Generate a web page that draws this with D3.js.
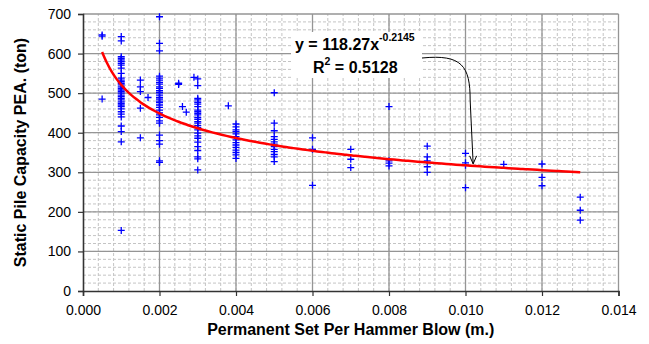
<!DOCTYPE html>
<html lang="en">
<head>
<meta charset="UTF-8">
<title>Static Pile Capacity vs Permanent Set</title>
<script src="https://d3js.org/d3.v7.min.js"></script>
<style>
  body { margin: 0; background: #fff; font-family: "Liberation Sans", Arial, sans-serif; }
  svg { display: block; }
  .tick text { font-size: 14px; fill: #000; font-family: "Liberation Sans", Arial, sans-serif; }
  .axis-title { font-weight: bold; font-size: 16px; fill: #000; }
  .eq { font-weight: bold; font-size: 16px; fill: #000; }
</style>
</head>
<body>
<svg id="chart"></svg>
<script>
// permanent set per blow (m.) for each column of readings
const setCols = [0.0005, 0.001, 0.0015, 0.0017, 0.002, 0.0025, 0.0026, 0.0027, 0.0029,
  0.003, 0.0038, 0.004, 0.005, 0.006, 0.007, 0.008, 0.009, 0.010, 0.011, 0.012, 0.013];

// static pile capacity (ton) read for each column
const capacityCols = [
  [647, 644, 485],
  [643, 632, 592, 588, 584, 580, 575, 571, 563, 550, 538, 533, 529, 525, 521, 516, 512, 508,
   504, 500, 495, 491, 487, 483, 478, 474, 470, 466, 460, 453, 447, 440, 417, 403, 377, 153],
  [533, 516, 504, 462, 387],
  [489],
  [693, 626, 607, 543, 538, 533, 527, 523, 516, 512, 506, 501, 495, 489, 485, 480, 476, 470,
   464, 457, 450, 445, 439, 430, 424, 394, 380, 371, 329, 325],
  [525, 522],
  [466],
  [452],
  [540],
  [536, 519, 487, 483, 477, 472, 466, 457, 453, 449, 445, 439, 434, 428, 424, 418, 413, 407,
   399, 392, 386, 376, 365, 355, 339, 334, 306],
  [468],
  [422, 415, 407, 403, 397, 390, 382, 375, 369, 363, 356, 350, 344, 335],
  [501, 424, 405, 390, 383, 377, 371, 365, 358, 352, 345, 339, 327],
  [387, 358, 267],
  [358, 333, 312],
  [466, 329, 323, 316],
  [366, 339, 329, 314, 300],
  [348, 324, 318, 261],
  [320],
  [321, 287, 266],
  [237, 204, 179]
];

const xTickValues = [0, 0.002, 0.004, 0.006, 0.008, 0.010, 0.012, 0.014];
const yTickValues = [0, 100, 200, 300, 400, 500, 600, 700];

// power trendline y = a * x^b
const trendA = 118.27;
const trendB = -0.2145;
const trendRange = [0.0005, 0.013];
const eqLine1 = "y = 118.27x";
const eqExp = "-0.2145";
const eqLine2 = " = 0.5128";

const width = 649, height = 344;
const svg = d3.select("#chart").attr("width", width).attr("height", height);
svg.append("rect").attr("width", width).attr("height", height).attr("fill", "#fff");

const x = d3.scaleLinear().domain([0, 0.014]).range([83, 618.5]);
const y = d3.scaleLinear().domain([0, 700]).range([291, 14]);

const points = setCols.flatMap((s, i) => capacityCols[i].map(c => ({ s, c })));

// minor grid (dashed)
const grid = svg.append("g");
grid.selectAll(".vminor")
  .data(d3.range(1, 35).map(i => i * 0.0004))
  .enter().append("line")
  .attr("x1", d => x(d)).attr("x2", d => x(d))
  .attr("y1", y(0)).attr("y2", y(700))
  .attr("stroke", "#c4c4c4").attr("stroke-dasharray", "3,2");
grid.selectAll(".hminor")
  .data(d3.range(1, 35).map(i => i * 20))
  .enter().append("line")
  .attr("y1", d => y(d)).attr("y2", d => y(d))
  .attr("x1", x(0)).attr("x2", x(0.014))
  .attr("stroke", "#c4c4c4").attr("stroke-dasharray", "3,2");

// major grid
grid.selectAll(".vmajor")
  .data(xTickValues.slice(1))
  .enter().append("line")
  .attr("x1", d => x(d)).attr("x2", d => x(d))
  .attr("y1", y(0)).attr("y2", y(700))
  .attr("stroke", "#959595").attr("stroke-width", 1.3);
grid.selectAll(".hmajor")
  .data(yTickValues.slice(1))
  .enter().append("line")
  .attr("y1", d => y(d)).attr("y2", d => y(d))
  .attr("x1", x(0)).attr("x2", x(0.014))
  .attr("stroke", "#959595").attr("stroke-width", 1.3);

// axes
const xAxis = svg.append("g")
  .attr("transform", `translate(0,${y(0)})`)
  .call(d3.axisBottom(x).tickValues(xTickValues).tickFormat(d3.format(".3f"))
    .tickSize(5).tickPadding(9));
const yAxis = svg.append("g")
  .attr("transform", `translate(${x(0)},0)`)
  .call(d3.axisLeft(y).tickValues(yTickValues).tickSize(5).tickPadding(7));
[xAxis, yAxis].forEach(a => {
  a.select(".domain").attr("stroke", "#333").attr("stroke-width", 1.6);
  a.selectAll(".tick line").attr("stroke", "#333").attr("stroke-width", 1.2);
});

// data markers
svg.append("g").selectAll("path")
  .data(points)
  .enter().append("path")
  .attr("transform", d => `translate(${x(d.s)},${y(d.c)})`)
  .attr("d", "M-3.5,0H3.5M0,-3.5V3.5")
  .attr("stroke", "#0000ff").attr("stroke-width", 1.3).attr("fill", "none");

// trendline
const trend = v => trendA * Math.pow(v, trendB);
const trendPts = d3.range(0, 101).map(i => trendRange[0] + (trendRange[1] - trendRange[0]) * i / 100);
svg.append("path")
  .datum(trendPts)
  .attr("d", d3.line().x(d => x(d)).y(d => y(trend(d))).curve(d3.curveBasis))
  .attr("fill", "none").attr("stroke", "#ff0000").attr("stroke-width", 2.5);

// equation label
svg.append("rect").attr("x", 291).attr("y", 32).attr("width", 131).attr("height", 46).attr("fill", "#fff");
const t1 = svg.append("text").attr("class", "eq").attr("x", 295).attr("y", 50);
t1.append("tspan").text(eqLine1);
t1.append("tspan").attr("dy", -9).attr("font-size", 10.5).text(eqExp);
const t2 = svg.append("text").attr("class", "eq").attr("x", 313).attr("y", 72.5);
t2.append("tspan").text("R");
t2.append("tspan").attr("dy", -8).attr("font-size", 10.5).text("2");
t2.append("tspan").attr("dy", 8).text(eqLine2);

// arrow pointing at the trendline
const tipX = x(0.0102), tipY = y(trend(0.0102)) - 2;
svg.append("path")
  .attr("d", `M422,58 C462,54 ${tipX - 3},66 ${tipX - 3},100 L${tipX},${tipY}`)
  .attr("fill", "none").attr("stroke", "#000").attr("stroke-width", 1);
svg.append("path")
  .attr("d", `M${tipX - 3.5},${tipY - 8} L${tipX},${tipY} L${tipX + 3.5},${tipY - 8}`)
  .attr("fill", "none").attr("stroke", "#000").attr("stroke-width", 1);

// axis titles
svg.append("text").attr("class", "axis-title")
  .attr("x", (x(0) + x(0.014)) / 2).attr("y", 334.5)
  .attr("text-anchor", "middle")
  .text("Permanent Set Per Hammer Blow (m.)");
svg.append("text").attr("class", "axis-title")
  .attr("transform", `translate(26,${(y(0) + y(700)) / 2}) rotate(-90)`)
  .attr("text-anchor", "middle")
  .text("Static Pile Capacity PEA. (ton)");
</script>
</body>
</html>
